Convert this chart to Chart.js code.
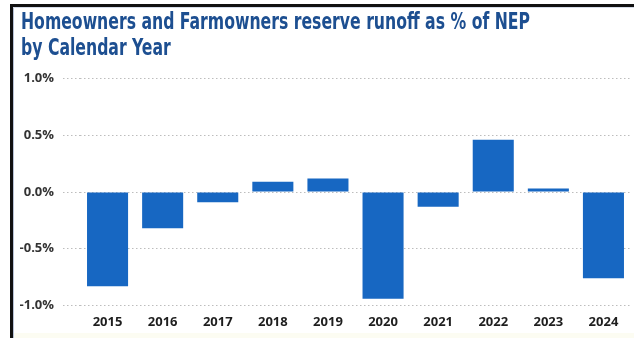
<!DOCTYPE html>
<html>
<head>
<meta charset="utf-8">
<script src="https://cdn.jsdelivr.net/npm/chart.js@4.4.1/dist/chart.umd.min.js"></script>
<style>
    html, body { margin: 0; padding: 0; background: #fff; }
    body { width: 634px; height: 338px; position: relative; overflow: hidden; }
    #chart { position: absolute; left: 0; top: 0; }
    .frame-top { position: absolute; left: 10px; top: 4px; right: 0; height: 3px; background: #111; }
    .frame-left { position: absolute; left: 10px; top: 4px; bottom: 0; width: 3px; background: #111; }
    .frame-inner-left { position: absolute; left: 13px; top: 7px; bottom: 0; width: 1px; background: #b9c3d6; }
    .frame-inner-top { position: absolute; left: 13px; top: 7px; right: 0; height: 1px; background: #d6dce8; }
    .bottom-strip { position: absolute; left: 14px; right: 0; bottom: 0; height: 5px; background: #fcfcf2; }
    #title {
        position: absolute; left: 21px; top: 8px;
        font-family: "DejaVu Sans Condensed", "DejaVu Sans", sans-serif;
        font-stretch: condensed;
        font-weight: bold; font-size: 23px; line-height: 26px;
        color: #1d4f91; white-space: nowrap;
        transform-origin: left top;
    }
    #title span { display: inline-block; }
</style>
</head>
<body>
<div class="bottom-strip"></div>
<canvas id="chart" width="634" height="338"></canvas>
<div class="frame-top"></div>
<div class="frame-left"></div>
<div class="frame-inner-left"></div>
<div class="frame-inner-top"></div>
<div id="title"><span id="title-l1">Homeowners and Farmowners reserve runoff as % of NEP</span><br><span>by Calendar Year</span></div>
<script>
    // Data
    const years = ['2015', '2016', '2017', '2018', '2019', '2020', '2021', '2022', '2023', '2024'];
    const runoff = [-0.83, -0.32, -0.09, 0.09, 0.12, -0.94, -0.13, 0.46, 0.03, -0.76];
    const yTicks = [-1.0, -0.5, 0.0, 0.5, 1.0];

    // Fit title line to reference width
    const titleEl = document.getElementById('title');
    const line1 = document.getElementById('title-l1');
    const targetWidth = 509;
    titleEl.style.transform = `scaleX(${targetWidth / line1.getBoundingClientRect().width})`;

    const tickFont = { family: '"Open Sans", sans-serif', size: 13, weight: 'bold', lineHeight: 1.2 };
    const dots = [1.5, 2.5];

    new Chart(document.getElementById('chart').getContext('2d'), {
        type: 'bar',
        data: {
            labels: years,
            datasets: [{
                data: runoff,
                backgroundColor: '#1767c2',
                borderWidth: 0,
                barPercentage: 0.745,
                categoryPercentage: 1.0
            }]
        },
        options: {
            responsive: false,
            animation: false,
            layout: { padding: { left: 20, right: 3, top: 78.5, bottom: 0 } },
            plugins: {
                legend: { display: false },
                tooltip: { enabled: false }
            },
            scales: {
                x: {
                    afterFit: scale => { scale.height = 32.5; },
                    grid: { display: false, drawTicks: false, tickLength: 0 },
                    border: { display: false },
                    ticks: { color: '#1e1e1e', font: tickFont, padding: 9, maxRotation: 0 }
                },
                y: {
                    min: yTicks[0],
                    max: yTicks[yTicks.length - 1],
                    afterBuildTicks: scale => {
                        scale.ticks = yTicks.map(v => ({ value: v }));
                    },
                    afterFit: scale => { scale.width = 60; },
                    border: { display: false, dash: dots },
                    grid: {
                        color: '#bdbdbd',
                        lineWidth: 1,
                        tickBorderDash: dots,
                        tickLength: 17,
                        drawTicks: true
                    },
                    ticks: {
                        color: '#333',
                        font: tickFont,
                        padding: 9,
                        callback: v => v.toFixed(1) + '%'
                    }
                }
            }
        }
    });
</script>
</body>
</html>
